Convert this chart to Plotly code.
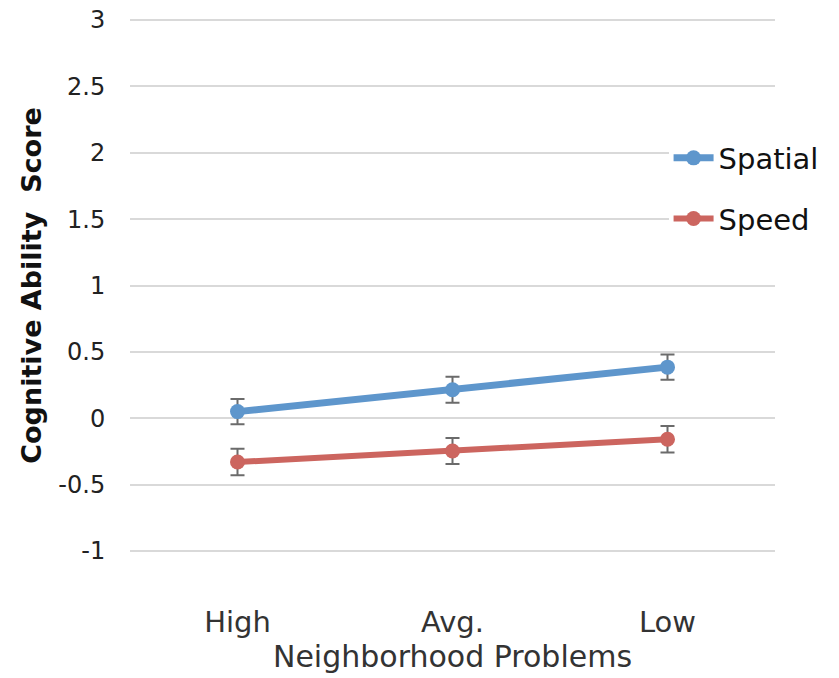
import plotly.graph_objects as go

categories = ["High", "Avg.", "Low"]
spatial = [0.05, 0.215, 0.385]
spatial_err = [0.095, 0.098, 0.095]
speed = [-0.33, -0.247, -0.158]
speed_err = [0.1, 0.098, 0.1]
y_ticks = [-1, -0.5, 0, 0.5, 1, 1.5, 2, 2.5, 3]
y_tick_text = ["-1", "-0.5", "0", "0.5", "1", "1.5", "2", "2.5", "3"]

FONT = "DejaVu Sans, sans-serif"
BLUE = "#5E96CC"
RED = "#CC655F"

fig = go.Figure()
fig.add_trace(go.Scatter(
    x=categories, y=spatial, name="Spatial", mode="lines+markers",
    line=dict(color=BLUE, width=7), marker=dict(color=BLUE, size=15),
    error_y=dict(type="data", array=spatial_err, color="#6B6B6B", thickness=2, width=7),
    legendgroup="a"))
fig.add_trace(go.Scatter(
    x=categories, y=speed, name="Speed", mode="lines+markers",
    line=dict(color=RED, width=6), marker=dict(color=RED, size=15),
    error_y=dict(type="data", array=speed_err, color="#6B6B6B", thickness=2, width=7),
    legendgroup="b"))

fig.update_layout(
    width=839, height=678,
    margin=dict(l=122, r=72, t=10, b=133, autoexpand=False),
    paper_bgcolor="white", plot_bgcolor="white",
    font=dict(family=FONT, color="#222222"),
    legend=dict(x=0.835, y=0.786, xanchor="left", yanchor="top",
                bgcolor="white", font=dict(size=29, color="#111111"),
                tracegroupgap=20, itemwidth=40),
    xaxis=dict(type="category", range=[-0.5, 2.5], showgrid=False, showline=False,
               automargin=False, ticklabeloverflow="allow",
               ticks="outside", ticklen=43, tickcolor="rgba(0,0,0,0)",
               tickfont=dict(size=29, color="#333333"),
               title=dict(text="Neighborhood Problems", font=dict(size=30, color="#333333"), standoff=3)),
    yaxis=dict(range=[-1.015, 3.015], tickvals=y_ticks, ticktext=y_tick_text,
               automargin=False, ticklabeloverflow="allow",
               showgrid=True, gridcolor="#D9D9D9", gridwidth=1.5, zeroline=False,
               ticks="outside", ticklen=19, tickcolor="rgba(0,0,0,0)",
               tickfont=dict(size=24, color="#222222"),
               title=dict(text="<b>Cognitive Ability  Score</b>", font=dict(size=27, color="#111111"), standoff=8)),
)
fig.write_html("out.html")
